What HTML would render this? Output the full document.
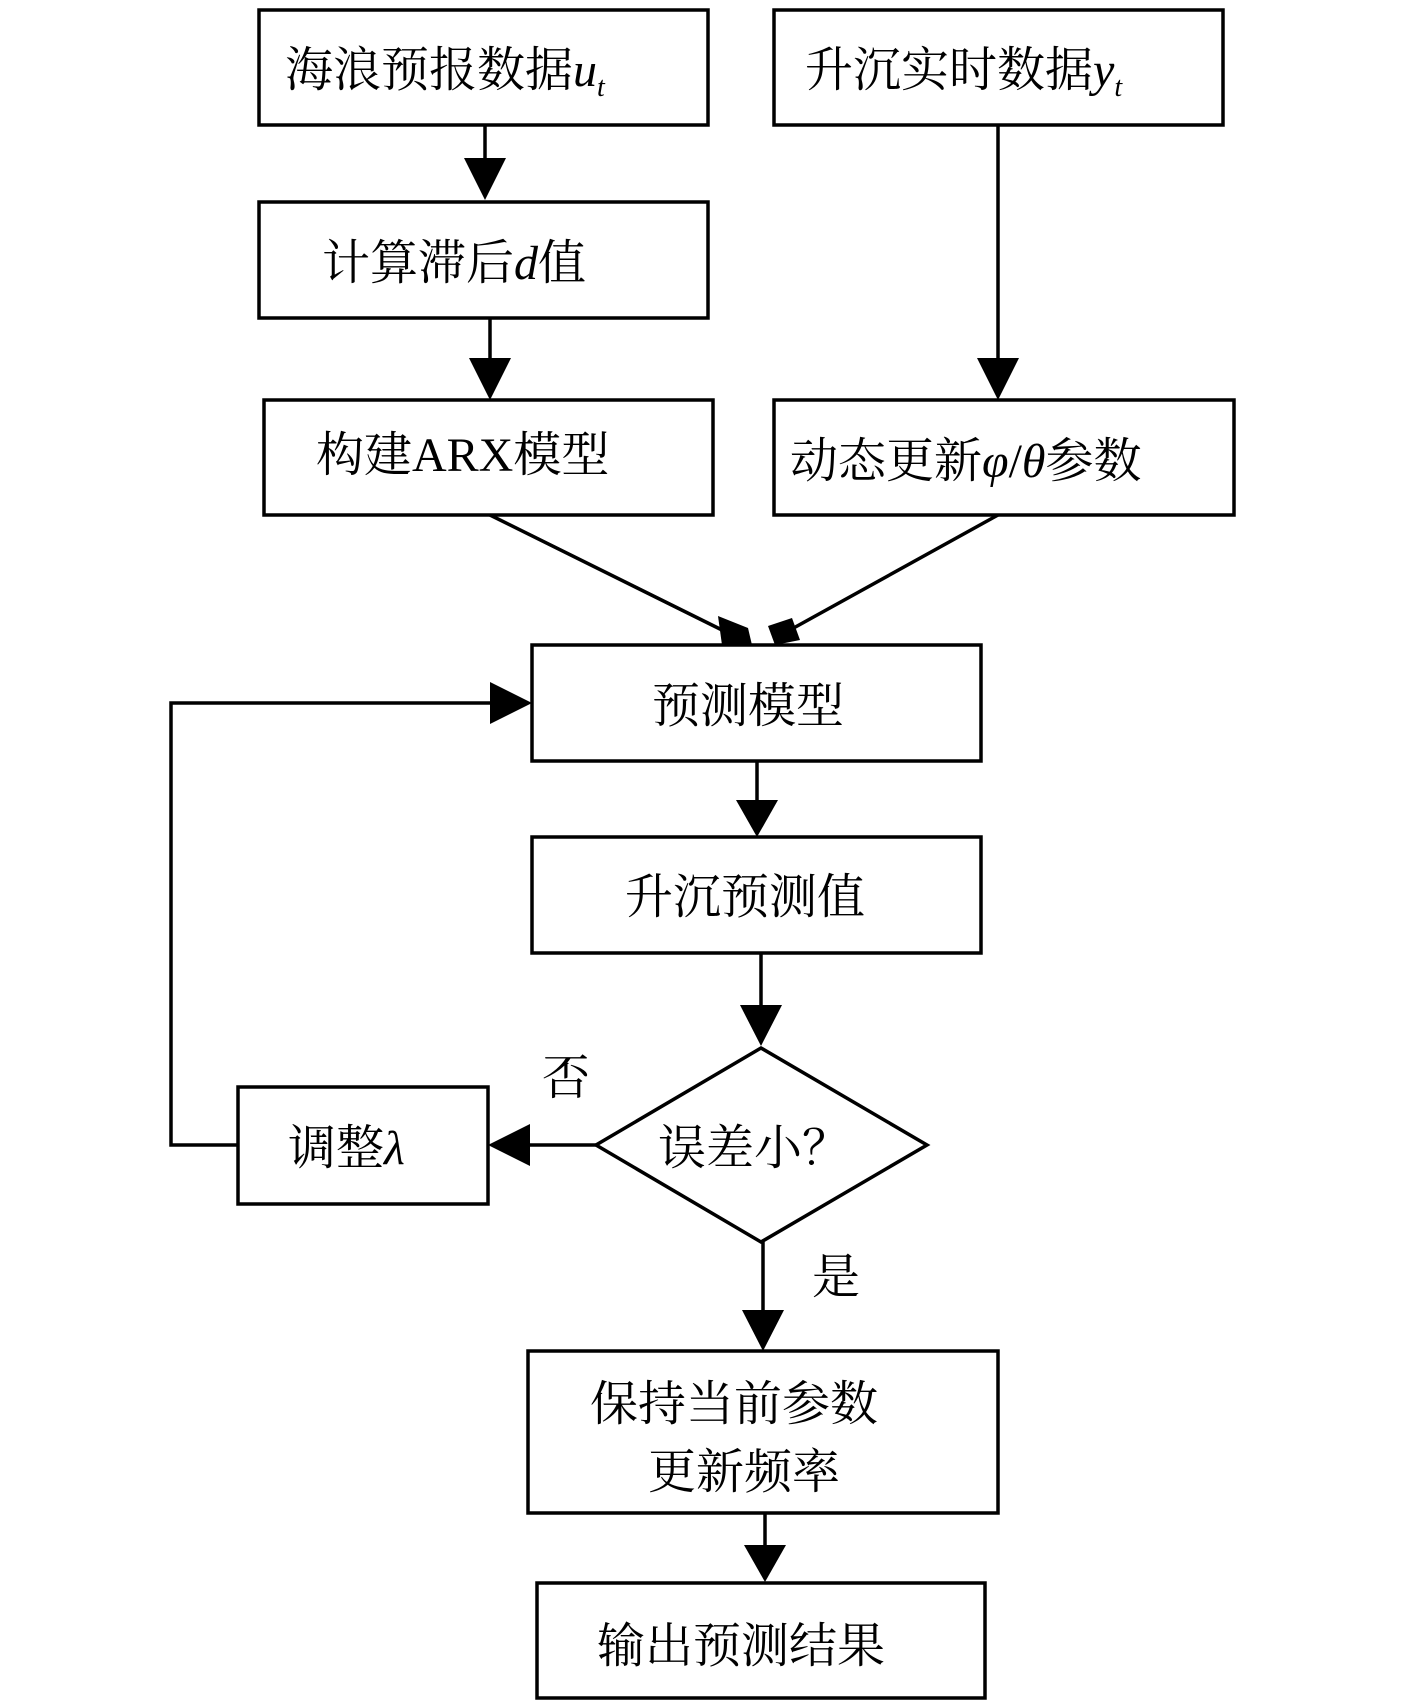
<!DOCTYPE html>
<html><head><meta charset="utf-8"><style>
html,body{margin:0;padding:0;background:#fff;}
svg text{font-family:"Liberation Serif","Noto Serif CJK SC",serif;font-size:48px;fill:#000;}
</style></head><body>
<svg width="1417" height="1700" viewBox="0 0 1417 1700" xmlns="http://www.w3.org/2000/svg">
<defs><marker id="a" markerWidth="10" markerHeight="10" refX="9" refY="5" orient="auto" markerUnits="userSpaceOnUse" viewBox="0 0 10 10"><path d="M0,0 L10,5 L0,10z"/></marker></defs>
<g fill="none" stroke="#000" stroke-width="3.5">
<rect x="259" y="10" width="449" height="115"/>
<rect x="774" y="10" width="449" height="115"/>
<rect x="259" y="202" width="449" height="116"/>
<rect x="264" y="400" width="449" height="115"/>
<rect x="774" y="400" width="460" height="115"/>
<rect x="532" y="645" width="449" height="116"/>
<rect x="532" y="837" width="449" height="116"/>
<polygon points="761,1048 927,1145 761,1242 596,1145"/>
<rect x="238" y="1087" width="250" height="117"/>
<rect x="528" y="1351" width="470" height="162"/>
<rect x="537" y="1583" width="448" height="115"/>
<polyline points="238,1145 171,1145 171,703 490,703"/>
<line x1="485" y1="125" x2="485" y2="160"/>
<line x1="490" y1="318" x2="490" y2="360"/>
<line x1="998" y1="125" x2="998" y2="360"/>
<line x1="490" y1="515" x2="722" y2="630"/>
<line x1="998" y1="515" x2="790" y2="630"/>
<line x1="757" y1="761" x2="757" y2="800"/>
<line x1="761" y1="953" x2="761" y2="1005"/>
<line x1="596" y1="1145" x2="530" y2="1145"/>
<line x1="763" y1="1242" x2="763" y2="1310"/>
<line x1="765" y1="1513" x2="765" y2="1545"/>
</g>
<g fill="#000">
<polygon points="464,158 506,158 485,200"/>
<polygon points="469,358 511,358 490,400"/>
<polygon points="977,358 1019,358 998,400"/>
<polygon points="490,682 490,724 532,703"/>
<polygon points="718,616 748,628 752,645 722,645"/>
<polygon points="775,645 768,626 792,618 800,640"/>
<polygon points="736,800 778,800 757,837"/>
<polygon points="740,1005 782,1005 761,1046"/>
<polygon points="530,1124 530,1166 488,1145"/>
<polygon points="742,1310 784,1310 763,1351"/>
<polygon points="744,1545 786,1545 765,1582"/>
</g>
<text x="285" y="86">海浪预报数据<tspan font-style="italic">u</tspan><tspan font-style="italic" font-size="28" dy="10">t</tspan></text>
<text x="805" y="86">升沉实时数据<tspan font-style="italic">y</tspan><tspan font-style="italic" font-size="28" dy="10">t</tspan></text>
<text x="322" y="279">计算滞后<tspan font-style="italic">d</tspan>值</text>
<text x="316" y="471">构建ARX模型</text>
<text x="790" y="477">动态更新<tspan font-style="italic">φ</tspan>/<tspan font-style="italic">θ</tspan>参数</text>
<text x="652" y="722">预测模型</text>
<text x="625" y="913">升沉预测值</text>
<text x="658" y="1164">误差小？</text>
<text x="288" y="1164">调整<tspan font-style="italic">λ</tspan></text>
<text x="542" y="1094">否</text>
<text x="812" y="1293">是</text>
<text x="590" y="1420">保持当前参数</text>
<text x="648" y="1488">更新频率</text>
<text x="597" y="1662">输出预测结果</text>
</svg>
</body></html>
